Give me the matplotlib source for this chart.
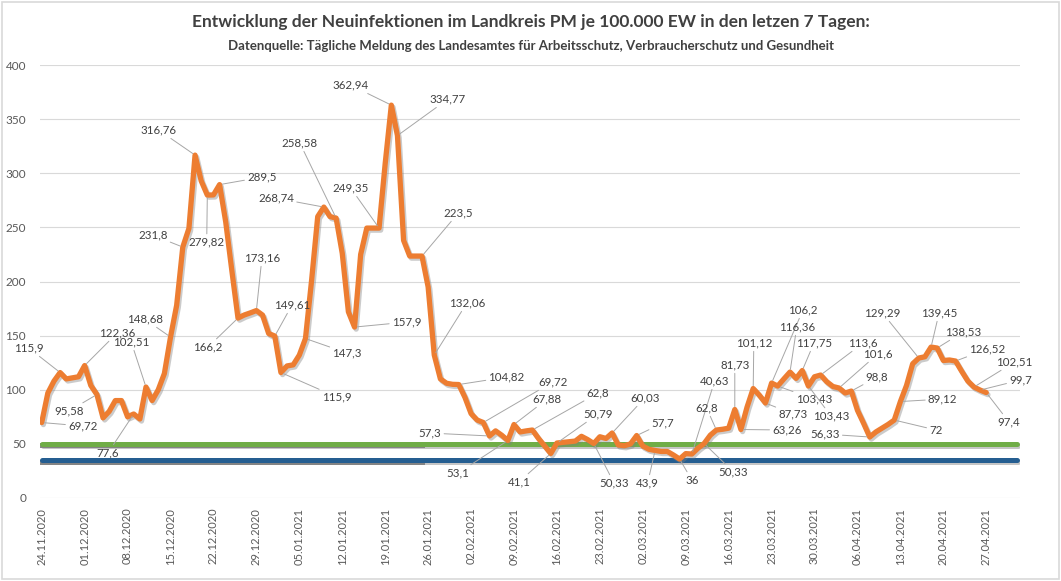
import matplotlib.pyplot as plt
import matplotlib.patheffects as pe
from matplotlib.patches import Rectangle
import pandas as pd

# 7-day incidence per 100.000, one value per day starting 24.11.2020
start_date = '2020-11-24'
n_days = 160
incidence = [
    69.72, 97, 108, 115.9, 110, 111, 112, 122.36, 104, 95.58,
    74, 80, 90, 90, 75, 77.6, 73, 102.51, 90, 100,
    115, 148.68, 178, 231.8, 249, 316.76, 293, 279.82, 280, 289.5,
    255, 210, 166.2, 169, 171, 173.16, 169, 152, 149.61, 115.9,
    122, 123, 132, 147.3, 201, 260, 268.74, 260, 258.58, 226,
    172, 157.9, 225, 249.35, 249.35, 249.35, 309, 362.94, 334.77, 238,
    223.5, 223.5, 223.5, 195, 132.06, 110, 106, 105, 104.82, 93,
    78, 72, 69.72, 57.3, 62, 58, 53.1, 67.88, 61, 62,
    62.8, 55, 48, 41.1, 50.79, 51.4, 52, 52.6, 57, 54,
    50.33, 56.6, 55, 60.03, 49, 48.3, 50, 57.7, 48, 45,
    43.9, 43, 43, 39.7, 36, 41, 40.63, 46, 50.33, 58,
    62.8, 63.5, 64.5, 81.73, 63.26, 84, 101.12, 95, 87.73, 106.2,
    103.43, 110, 116.36, 110.5, 117.75, 103.43, 112, 113.6, 107.4, 103,
    101.6, 97, 98.8, 81, 69, 56.33, 61, 64.5, 68, 72,
    89.12, 104, 124, 129.29, 130.5, 139.45, 138.53, 127, 127.5, 126.52,
    117, 108, 102.51, 99.7, 97.4,
]
limit_green = 50
limit_blue = 35

title = 'Entwicklung der Neuinfektionen im Landkreis PM je 100.000 EW in den letzen 7 Tagen:'
subtitle = ('Datenquelle: Tägliche Meldung des Landesamtes für Arbeitsschutz, '
            'Verbraucherschutz und Gesundheit')

# where each data label sits (day, value of the text centre)
label_xy = {
    0: (6.7, 66.5), 3: (-2.1, 138.5), 7: (12.3, 152.4), 9: (4.4, 80.3),
    15: (10.8, 41.6), 17: (14.6, 144), 21: (16.8, 165.3), 23: (18.1, 242.8),
    25: (19.1, 339.8), 27: (26.9, 236.4), 29: (35.9, 296.4), 32: (27.1, 139.4),
    35: (35.9, 221.6), 38: (40.8, 178.2), 39: (48.1, 93.3), 43: (49.8, 133.9),
    46: (38.2, 277), 48: (42.1, 327.8), 51: (59.5, 162.5), 55: (50.4, 286.2),
    57: (50.4, 381.3), 58: (66.2, 368.4), 62: (67.9, 263.2), 64: (69.3, 180),
    68: (75.8, 111.7), 72: (83.3, 107.1), 73: (63.3, 60), 76: (67.9, 23.1),
    77: (82.4, 91.4), 80: (90.7, 97), 83: (77.8, 14.8), 84: (90.7, 77.6),
    90: (93.3, 13.9), 93: (98.3, 92.3), 97: (101.3, 69.3), 100: (98.8, 13.9),
    104: (106, 16.6), 106: (109.7, 108), 108: (112.8, 24), 110: (108.4, 83.1),
    113: (113, 122.8), 114: (121.5, 62.8), 116: (116.1, 143.1), 118: (122.5, 77.6),
    119: (124.1, 173.6), 120: (125.9, 91.4), 122: (123.1, 157.9), 124: (125.9, 143.1),
    125: (128.7, 75.7), 127: (133.9, 143.1), 130: (136.3, 133), 132: (136.2, 111.7),
    135: (127.7, 59.1), 139: (145.8, 62.8), 140: (146.9, 91.4), 143: (137.1, 170.8),
    145: (146.3, 170.8), 146: (150.2, 153.3), 149: (154.2, 137.6), 152: (158.6, 125.6),
    153: (159.6, 109), 154: (157.7, 70.2),
}

dates = pd.date_range(start_date, periods=n_days)
days = list(range(len(incidence)))
all_days = list(range(n_days))
tick_days = list(range(0, n_days, 7))
tick_labels = [dates[d].strftime('%d.%m.%Y') for d in tick_days]

text_grey = '#595959'
font = 'Lato'

fig = plt.figure(figsize=(10.61, 5.81), dpi=100)
ax = fig.add_axes([40 / 1061, 83 / 581, 980 / 1061, 433 / 581])

soft_shadow = [pe.SimpleLineShadow(offset=(1, -1.5), shadow_color='#7f7f7f', alpha=0.45), pe.Normal()]
dark_shadow = [pe.SimpleLineShadow(offset=(0, -1.0), shadow_color='#3a3a3a', alpha=0.6)]

# darker band under the limit lines in the first weeks
ax.plot(all_days[:63], [limit_green] * 63, color='#70AD47', lw=3.6, path_effects=dark_shadow, zorder=2)
ax.plot(all_days[:63], [limit_blue] * 63, color='#255E91', lw=3.6, path_effects=dark_shadow, zorder=2)

ax.plot(all_days, [limit_green] * n_days, color='#70AD47', lw=3.6,
        solid_capstyle='round', path_effects=soft_shadow, zorder=3)
ax.plot(all_days, [limit_blue] * n_days, color='#255E91', lw=3.6,
        solid_capstyle='round', path_effects=soft_shadow, zorder=3)

ax.plot(days, incidence, color='#ED7D31', lw=3.8, solid_joinstyle='round',
        solid_capstyle='round',
        path_effects=[pe.SimpleLineShadow(offset=(1.2, -1.5), shadow_color='#7f7f7f', alpha=0.4),
                      pe.Normal()], zorder=4)

for d, (tx, ty) in label_xy.items():
    v = incidence[d]
    ax.annotate(f'{v:g}'.replace('.', ','), xy=(d, v), xytext=(tx, ty),
                ha='center', va='center', fontsize=8.3, color='#404040', family=font,
                annotation_clip=False, zorder=5,
                arrowprops=dict(arrowstyle='-', color='#a6a6a6', lw=0.7,
                                shrinkA=0, shrinkB=2))

ax.set_xlim(-0.28, 159.5)
ax.set_ylim(0, 400)
ax.set_yticks(range(0, 401, 50))
ax.set_xticks(tick_days)
ax.set_xticklabels(tick_labels, rotation=90)
ax.tick_params(axis='both', length=0, labelcolor=text_grey)
ax.tick_params(axis='y', pad=10, labelsize=8.5)
ax.tick_params(axis='x', pad=7, labelsize=8)
for lab in ax.get_xticklabels() + ax.get_yticklabels():
    lab.set_family(font)
ax.grid(axis='y', color='#d9d9d9', lw=0.8)
ax.set_axisbelow(True)
for s in ax.spines.values():
    s.set_visible(False)

fig.text(0.5, 1 - 22 / 581, title, ha='center', va='center', fontsize=12.5,
         fontweight='bold', color='#404040', family=font)
fig.text(0.5, 1 - 46 / 581, subtitle, ha='center', va='center', fontsize=9.5,
         fontweight='bold', color='#404040', family=font)

fig.patches.append(Rectangle((0.002, 0.003), 0.996, 0.994, transform=fig.transFigure,
                             fill=False, edgecolor='#d9d9d9', lw=1.2))

fig.savefig('out.png', dpi=100)
